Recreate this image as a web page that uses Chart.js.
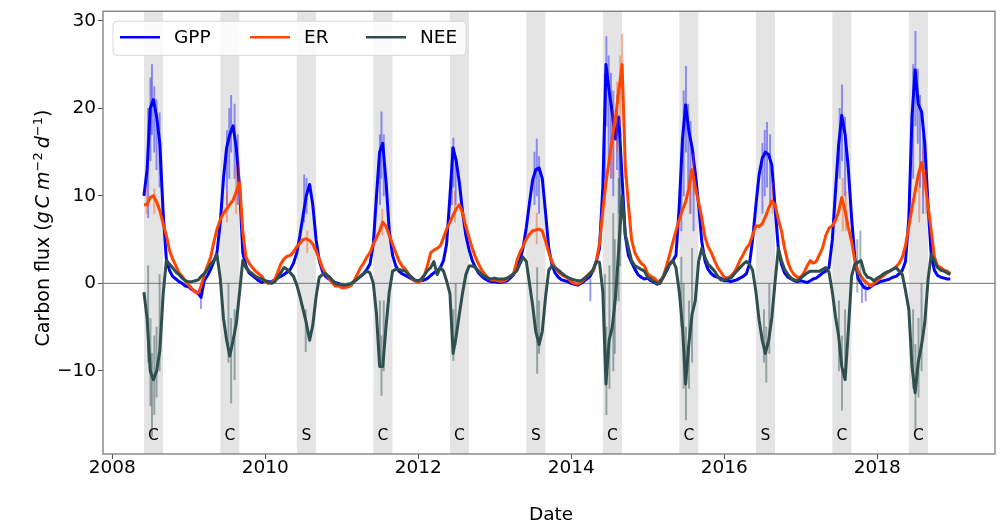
<!DOCTYPE html>
<html>
<head>
<meta charset="utf-8">
<title>Carbon flux</title>
<script src="https://cdn.jsdelivr.net/npm/chart.js@4.4.1/dist/chart.umd.min.js"></script>
<style>
    html, body { margin: 0; padding: 0; background: #fff; }
    #wrap { width: 1003px; height: 523px; }
</style>
</head>
<body>
<div id="wrap"><canvas id="chart" width="1003" height="523"></canvas></div>
<script>
const seriesNames = ['GPP', 'ER', 'NEE'];
const seriesColors = ['#0000ff', '#ff4500', '#2f4f4f'];
const spikeColors = ['rgba(0,0,255,0.4)', 'rgba(255,69,0,0.4)', 'rgba(47,79,79,0.45)'];

const xTicks = [2008, 2010, 2012, 2014, 2016, 2018];
const yTicks = [-10, 0, 10, 20, 30];

// summer (Jun-Aug) bands and their labels
const bandYears = [2008, 2009, 2010, 2011, 2012, 2013, 2014, 2015, 2016, 2017, 2018];
const bandLabels = ['C', 'C', 'S', 'C', 'C', 'S', 'C', 'C', 'S', 'C', 'C'];

// values on the 1st and 16th of each month, Jun 2008 .. Dec 2018
const gpp = [
    10, 13, 20, 21, 19, 16, 8, 2.8, 1.5, 0.8, 0.5, 0.2, 0, -0.3, // 2008
    -0.4, -0.7, -0.9, -1.2, -1.6, 0.3, 0.9, 1.6, 2.5, 3.5, 7, 12, 15.5, 17, 18, 15.5, 11, 3.5, 2, 1.2, 0.9, 0.6, 0.3, 0.1,
    0.3, 0.2, 0.2, 0.4, 0.6, 0.8, 1, 1.3, 1.6, 2.3, 3.5, 5.5, 7.8, 10, 11.3, 9, 5, 2.6, 1.4, 0.8, 0.5, 0.3, 0.1, 0,
    -0.2, -0.3, -0.3, -0.1, 0.2, 0.5, 0.8, 1.1, 1.6, 2.2, 4.5, 10, 15, 16, 11.5, 6, 3.2, 2, 1.4, 1.1, 0.9, 0.7, 0.5, 0.3,
    0.3, 0.3, 0.4, 0.6, 0.9, 1.2, 1.4, 1.8, 2.6, 4.5, 10, 15.5, 14, 11.5, 8, 5.5, 3.8, 2.6, 1.8, 1.2, 0.8, 0.5, 0.3, 0.2,
    0.2, 0.1, 0.1, 0.2, 0.3, 0.6, 1, 1.8, 2.6, 4, 6.4, 9.2, 11.8, 13, 13.2, 12, 8, 4, 2.2, 1.2, 0.7, 0.4, 0.3, 0.2,
    0, -0.1, -0.2, 0, 0.2, 0.5, 0.8, 1.5, 2.5, 4, 11, 25, 22, 19.5, 16.5, 19, 12, 5.5, 3.2, 2.4, 1.6, 1, 0.7, 0.5,
    0.6, 0.3, 0.1, -0.1, 0.3, 0.7, 1.4, 2.2, 2.6, 3.2, 9, 16.5, 20.4, 17.5, 15.5, 12.6, 9, 4.8, 2.6, 1.6, 1.1, 0.8, 0.7, 0.6,
    0.3, 0.3, 0.2, 0.3, 0.4, 0.6, 0.8, 1.1, 2.2, 5, 9, 12.4, 14.3, 15, 14.7, 13.5, 8.5, 4, 2.2, 1.2, 0.7, 0.5, 0.3, 0.2,
    0.3, 0.2, 0.1, 0.3, 0.5, 0.6, 0.9, 1.2, 1.4, 1.8, 5, 10.5, 15.8, 19.2, 17, 13.2, 7.5, 3, 0.6, 0, -0.5, -0.6, -0.4, -0.1,
    0, 0.2, 0.3, 0.4, 0.5, 0.7, 0.8, 1.1, 1.5, 2.5, 7.5, 19, 24.4, 20.5, 19.6, 16, 8.8, 3.2, 1.5, 0.9, 0.7, 0.6, 0.5, 0.5
];
const er = [
    9, 9, 9.8, 10, 9.3, 8.3, 6.8, 5.5, 3.8, 2.8, 2, 1.2, 0.8, 0.3, // 2008
    -0.2, -0.6, -1, -1.1, -0.3, 1, 2, 3, 4.7, 6.2, 7.3, 8, 8.5, 9, 9.5, 10.5, 11.5, 6, 3, 2.3, 1.8, 1.4, 1.1, 0.8,
    0.2, 0, 0.1, 0.5, 1.2, 2.2, 2.8, 3.1, 3.2, 3.6, 4.2, 4.6, 5, 5.1, 4.9, 4.5, 3.7, 2.8, 1.8, 1.1, 0.6, 0.1, -0.3, -0.3,
    -0.5, -0.5, -0.4, -0.2, 0.3, 1, 1.8, 2.3, 3, 3.5, 4.5, 5.2, 6, 7, 6.5, 5.5, 4.5, 3.5, 2.6, 2, 1.6, 1.1, 0.6, 0.3,
    0.1, 0.4, 1, 2.2, 3.5, 3.8, 4, 4.3, 5.2, 6.2, 7, 7.8, 8.5, 9, 8, 6.5, 5.2, 4, 3, 2.2, 1.5, 1, 0.6, 0.4,
    0.4, 0.3, 0.2, 0.3, 0.5, 0.8, 1.1, 2.5, 3.5, 4.2, 5.1, 5.6, 6, 6.1, 6.2, 6, 4.8, 3.5, 2.5, 1.8, 1.3, 1, 0.8, 0.6,
    0.2, 0, -0.1, 0.1, 0.4, 0.8, 1.2, 1.4, 2.6, 4.5, 8.3, 11.5, 14, 16.6, 19, 22, 25, 13.5, 9, 5, 3.5, 2.8, 2.3, 2,
    1.1, 0.8, 0.6, 0.2, 0, 0.8, 2, 3.3, 4.7, 6, 7.3, 8.4, 9.3, 10.8, 13, 11, 9.3, 7.5, 5.3, 4.2, 3.5, 2.6, 1.8, 1.3,
    0.7, 0.6, 0.8, 1.2, 1.8, 2.6, 3.3, 4, 4.5, 5.5, 6.6, 6.5, 6.8, 7.6, 8.6, 9.4, 9, 7.3, 6, 4, 2.4, 1.5, 1, 0.7,
    0.7, 1.2, 2, 2.6, 2.3, 2.5, 3.3, 4.1, 5.5, 6.3, 6.6, 7.2, 8.2, 9.8, 8.3, 6.4, 4.8, 2.6, 1.4, 0.8, 0.3, 0, -0.3, 0,
    0.3, 0.6, 0.9, 1.2, 1.4, 1.6, 1.9, 2.3, 3, 4.3, 6.5, 8.6, 10.5, 12.4, 13.8, 11.8, 8.8, 6, 3, 2, 1.8, 1.5, 1.4, 1.1
];
const nee = [
    -1, -4, -10, -11, -10, -7.7, -1.2, 2.6, 2.2, 1.8, 1.3, 1, 0.6, 0.3, // 2008
    0.2, 0.2, 0.3, 0.4, 0.8, 1.1, 1.6, 2.2, 2.6, 3.3, 0.5, -4, -6.5, -8.3, -6.5, -4.6, -1, 2.6, 1.8, 1.4, 1.1, 0.8, 0.6, 0.5,
    0.3, 0.1, 0, 0.2, 0.6, 1.2, 1.8, 1.6, 1.2, 0.8, -0.2, -1.5, -3, -4.5, -6.5, -4.8, -1.5, 0.7, 1, 1.1, 0.8, 0.4, 0, -0.1,
    -0.1, -0.2, -0.1, 0, 0.2, 0.5, 0.8, 1.1, 1.4, 1.2, 0, -3.5, -9.5, -9.5, -4.8, -1, 1.4, 1.6, 1.6, 1.5, 1.4, 1, 0.7, 0.4,
    0.3, 0.5, 1, 1.5, 1.8, 2.5, 1, 1.8, 1.4, 0.3, -1.2, -8, -6, -3.5, -1, 1, 2, 2, 1.8, 1.4, 1, 0.8, 0.6, 0.5,
    0.6, 0.5, 0.5, 0.5, 0.6, 0.8, 1.1, 1.4, 2.2, 3, 2.5, 0, -2.5, -5.5, -7, -5.5, -1.5, 1.5, 2, 1.8, 1.5, 1.2, 0.9, 0.7,
    0.5, 0.4, 0.3, 0.3, 0.5, 0.8, 1.1, 1.6, 2.5, 2.4, -1, -11.5, -6.5, -5, -1.5, 4, 10, 5.6, 4.1, 2.6, 2, 1.8, 1.6, 1.4,
    0.7, 0.5, 0.2, 0, 0, 0.7, 1.6, 2.2, 2.6, 1.8, -1, -5, -11.5, -7, -3.5, -2, 2.5, 4, 3, 2.2, 1.8, 1.4, 0.8, 0.4,
    0.4, 0.5, 0.6, 1, 1.4, 1.8, 2.2, 2.5, 2.2, 1.5, -1, -4.2, -6.5, -8, -6.5, -3.9, 0.3, 4, 2.6, 1.6, 1, 0.6, 0.4, 0.3,
    0.6, 0.9, 1.2, 1.4, 1.4, 1.4, 1.4, 1.6, 1.8, 1.3, -1, -3.8, -6, -9.5, -11, -5.5, 0.8, 2.2, 2.4, 2.6, 1.2, 0.7, 0.6, 0.3,
    0.6, 0.8, 1.1, 1.3, 1.4, 1.6, 1.8, 1.4, 1, -0.8, -3, -9.5, -12.5, -9, -7, -4.5, 0.5, 3.3, 2.6, 1.8, 1.5, 1.4, 1.2, 1
];

// single-day excursions: [decimal year, low, high]
const gppSpikes = [
    [2008.47, 7.5, 20], [2008.50, 14, 23.5], [2008.52, 17, 25], [2008.55, 15, 22.5], [2008.58, 13, 21], [2008.62, 11, 19.5],
    [2009.16, -2.9, -0.5], [2009.50, 9, 17.5], [2009.53, 12, 20], [2009.555, 15, 21.5], [2009.60, 12, 20.5], [2009.64, 9, 17],
    [2010.51, 7, 12.4], [2010.54, 8, 12],
    [2011.50, 9, 17], [2011.52, 12, 19.6], [2011.55, 10, 17],
    [2012.44, 9, 15.5], [2012.46, 11, 16.6], [2012.49, 9, 14.5],
    [2013.52, 9, 15], [2013.55, 10, 16.5], [2013.58, 8, 14.5],
    [2014.25, -2, 0.5], [2014.44, 12, 24], [2014.46, 18, 28.2], [2014.49, 14, 26], [2014.52, 12, 24], [2014.55, 10, 22], [2014.60, 13, 21.5], [2014.63, 8, 17],
    [2015.44, 6, 14], [2015.47, 10, 22], [2015.50, 15, 24.8], [2015.53, 11, 20.5], [2015.56, 8, 18.5], [2015.60, 6, 15],
    [2016.50, 8, 16], [2016.53, 10, 17.5], [2016.56, 11, 18.4], [2016.60, 9, 17],
    [2017.51, 12, 20], [2017.54, 14, 22.7], [2017.58, 10, 19], [2017.80, -2.2, 0.5], [2017.85, -2, 0],
    [2018.47, 12, 25], [2018.50, 18, 28.8], [2018.53, 16, 24.5], [2018.56, 11, 21.5], [2018.60, 8, 17]
];
const erSpikes = [
    [2008.45, 8, 11], [2008.55, 8, 10.8],
    [2009.50, 7, 10.5], [2009.62, 8, 13.5], [2009.66, 10, 14],
    [2010.55, 3.5, 6], [2011.53, 5.5, 8.5], [2012.48, 7, 10.5], [2013.55, 4.5, 8],
    [2014.55, 12, 20], [2014.60, 15, 23], [2014.64, 18, 26], [2014.665, 21, 28.5], [2014.70, 12, 18],
    [2015.55, 8, 13], [2015.60, 10, 14.8],
    [2016.63, 8, 11.5],
    [2017.55, 6, 12], [2017.59, 6, 10.5],
    [2018.55, 7, 13], [2018.60, 10, 15.5], [2018.64, 8, 13]
];
const neeSpikes = [
    [2008.47, -9, 2], [2008.50, -14, -4], [2008.52, -17.5, -8], [2008.55, -15, -6], [2008.58, -13, -5], [2008.62, -10, 1],
    [2009.52, -9, 0], [2009.555, -13.7, -4], [2009.60, -11, -3],
    [2010.53, -7.8, -3],
    [2011.50, -9, -2], [2011.52, -12.8, -6], [2011.55, -10, -2],
    [2012.46, -8.8, -3], [2012.49, -7, 0],
    [2013.555, -10.3, 1.8], [2013.58, -8, -2],
    [2014.44, -8, 1], [2014.46, -15, -5], [2014.50, -12, 2], [2014.55, -10, 8], [2014.57, -8, 5], [2014.62, -2, 12], [2014.64, 2, 16.6],
    [2015.44, -5, 3], [2015.47, -12, 0], [2015.50, -15.6, -5], [2015.54, -12, -2], [2015.58, -9, 4],
    [2016.52, -9, -3], [2016.55, -11.3, -5], [2016.59, -8, 0],
    [2017.50, -10, -2], [2017.54, -14.5, -6], [2017.58, -11, -3], [2017.74, -1, 5], [2017.78, 0, 6],
    [2018.47, -12, -3], [2018.50, -16.8, -7], [2018.54, -13, -4], [2018.58, -10, 0]
];

const toYear = (y, m, d) => {
    const t0 = Date.UTC(y, 0, 1), t1 = Date.UTC(y + 1, 0, 1);
    return y + (Date.UTC(y, m, d) - t0) / (t1 - t0);
};

const dates = [];
for (let y = 2008; y <= 2018; y++) {
    for (let m = 0; m < 12; m++) {
        if (y === 2008 && m < 5) continue;
        dates.push(toYear(y, m, 1), toYear(y, m, 16));
    }
}

const FONT = '"DejaVu Sans", sans-serif';
Chart.defaults.font.family = FONT;
Chart.defaults.color = '#000';

const lineSet = (i, values, order) => ({
    type: 'line',
    label: seriesNames[i],
    data: dates.map((x, k) => ({ x, y: values[k] })),
    borderColor: seriesColors[i],
    borderWidth: 3,
    borderJoinStyle: 'round',
    pointRadius: 0,
    tension: 0,
    order
});

const spikeSet = (i, spikes, order) => ({
    type: 'bar',
    label: seriesNames[i] + ' daily',
    data: spikes.map(([x, lo, hi]) => ({ x, y: [lo, hi] })),
    backgroundColor: spikeColors[i],
    borderWidth: 0,
    barThickness: 1.3,
    grouped: false,
    order
});

const drawYTitle = (ctx, cx, cy) => {
    const reg = `19px ${FONT}`, ital = `italic 19px ${FONT}`, sup = `13px ${FONT}`;
    const parts = [
        ['Carbon flux (', reg, 0, 0], ['g', ital, 0, 3], ['C', ital, 0, 5], ['m', ital, 0, 0],
        ['\u22122', sup, 7, 4], ['d', ital, 0, 0], ['\u22121', sup, 7, 0], [')', reg, 0, 0]
    ];
    ctx.save();
    ctx.translate(cx, cy);
    ctx.rotate(-Math.PI / 2);
    ctx.textBaseline = 'alphabetic';
    ctx.textAlign = 'left';
    ctx.fillStyle = '#000';
    let total = 0;
    parts.forEach(([t, f, , gap]) => { ctx.font = f; total += ctx.measureText(t).width + gap; });
    let x = -total / 2;
    parts.forEach(([t, f, rise, gap]) => {
        ctx.font = f;
        ctx.fillText(t, x, 6.6 - rise);
        x += ctx.measureText(t).width + gap;
    });
    ctx.restore();
};

const decor = {
    id: 'decor',
    beforeDatasetsDraw(chart) {
        const { ctx, chartArea: a, scales: { x, y } } = chart;
        ctx.save();
        ctx.fillStyle = '#e4e4e4';
        bandYears.forEach(yr => {
            const x0 = x.getPixelForValue(toYear(yr, 5, 1));
            const x1 = x.getPixelForValue(toYear(yr, 7, 31));
            ctx.fillRect(x0, a.top, x1 - x0, a.bottom - a.top);
        });
        const y0 = y.getPixelForValue(0);
        ctx.strokeStyle = '#8c8c8c';
        ctx.lineWidth = 1.2;
        ctx.beginPath();
        ctx.moveTo(a.left, y0);
        ctx.lineTo(a.right, y0);
        ctx.stroke();
        ctx.restore();
    },
    afterDraw(chart) {
        const { ctx, chartArea: a, scales: { x } } = chart;
        ctx.save();

        ctx.font = `15.5px ${FONT}`;
        ctx.fillStyle = '#000';
        ctx.textAlign = 'center';
        ctx.textBaseline = 'middle';
        bandYears.forEach((yr, i) => {
            const xc = (x.getPixelForValue(toYear(yr, 5, 1)) + x.getPixelForValue(toYear(yr, 7, 31))) / 2;
            ctx.fillText(bandLabels[i], xc, a.bottom - 18);
        });

        ctx.strokeStyle = '#7a7a7a';
        ctx.lineWidth = 1.3;
        ctx.strokeRect(a.left, a.top, a.right - a.left, a.bottom - a.top);

        // legend
        const lx = a.left + 10, ly = a.top + 10, lw = 353, lh = 34;
        ctx.beginPath();
        ctx.roundRect(lx, ly, lw, lh, 4);
        ctx.fillStyle = 'rgba(255,255,255,0.85)';
        ctx.fill();
        ctx.strokeStyle = '#d6d6d6';
        ctx.lineWidth = 1;
        ctx.stroke();
        const itemX = [lx + 7, lx + 137, lx + 253];
        ctx.font = `18.5px ${FONT}`;
        ctx.textAlign = 'left';
        ctx.textBaseline = 'middle';
        seriesNames.forEach((name, i) => {
            ctx.strokeStyle = seriesColors[i];
            ctx.lineWidth = 2.6;
            ctx.beginPath();
            ctx.moveTo(itemX[i], ly + 16);
            ctx.lineTo(itemX[i] + 40, ly + 16);
            ctx.stroke();
            ctx.fillStyle = '#000';
            ctx.fillText(name, itemX[i] + 54, ly + 17);
        });

        ctx.font = `18.5px ${FONT}`;
        ctx.textAlign = 'center';
        ctx.fillText('Date', (a.left + a.right) / 2 + 2, 515);
        ctx.restore();

        drawYTitle(ctx, 42, 228);
    }
};

new Chart(document.getElementById('chart'), {
    type: 'line',
    data: {
        datasets: [
            spikeSet(0, gppSpikes, 6),
            lineSet(0, gpp, 5),
            spikeSet(1, erSpikes, 4),
            lineSet(1, er, 3),
            spikeSet(2, neeSpikes, 2),
            lineSet(2, nee, 1)
        ]
    },
    options: {
        responsive: false,
        animation: false,
        devicePixelRatio: 1,
        events: [],
        layout: { padding: { left: 0, top: 9, right: 8, bottom: 0 } },
        plugins: { legend: { display: false }, tooltip: { enabled: false } },
        scales: {
            x: {
                type: 'linear',
                min: 2007.88,
                max: 2019.54,
                offset: false,
                border: { display: false },
                grid: { offset: false, drawOnChartArea: false, drawTicks: true, tickLength: 5, color: '#555' },
                afterBuildTicks: s => { s.ticks = xTicks.map(value => ({ value })); },
                afterFit: s => { s.height = 69; },
                ticks: {
                    padding: 0,
                    font: { size: 18.5, lineHeight: 1 },
                    color: '#000',
                    maxRotation: 0,
                    callback: v => String(v)
                }
            },
            y: {
                min: -19.5,
                max: 31.1,
                border: { display: false },
                grid: { offset: false, drawOnChartArea: false, drawTicks: true, tickLength: 5, color: '#555' },
                afterBuildTicks: s => { s.ticks = yTicks.map(value => ({ value })); },
                afterFit: s => { s.width = 103; },
                ticks: {
                    padding: 2,
                    font: { size: 18.5, lineHeight: 1 },
                    color: '#000',
                    callback: v => (v < 0 ? '\u2212' + Math.abs(v) : String(v))
                }
            }
        }
    },
    plugins: [decor]
});
</script>
</body>
</html>
